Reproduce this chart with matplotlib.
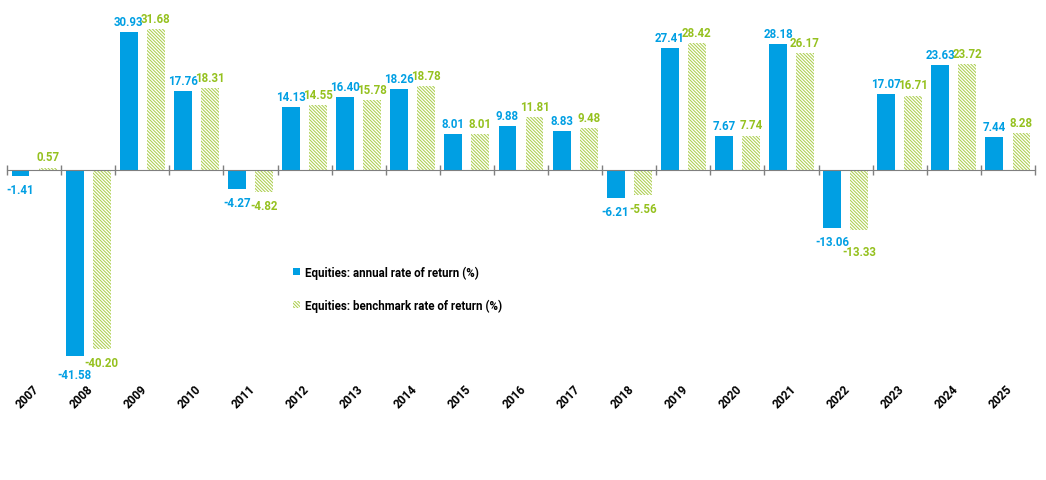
import numpy as np
import matplotlib
matplotlib.use("Agg")
import matplotlib.pyplot as plt
import matplotlib.transforms as mtransforms

# Datos
years = [str(y) for y in range(2007, 2026)]
annual = [-1.41, -41.58, 30.93, 17.76, -4.27, 14.13, 16.40, 18.26, 8.01, 9.88,
          8.83, -6.21, 27.41, 7.67, 28.18, -13.06, 17.07, 23.63, 7.44]
benchmark = [0.57, -40.20, 31.68, 18.31, -4.82, 14.55, 15.78, 18.78, 8.01, 11.81,
             9.48, -5.56, 28.42, 7.74, 26.17, -13.33, 16.71, 23.72, 8.28]
labels = ["Equities: annual rate of return (%)",
          "Equities: benchmark rate of return (%)"]

BLUE = "#009FE3"
GREEN = "#95C11F"
FONT = ["Roboto", "DejaVu Sans"]

plt.rcParams['font.family'] = FONT
plt.rcParams['hatch.linewidth'] = 0.75

W, H = 1046, 481
fig = plt.figure(figsize=(W / 100, H / 100), dpi=100)
# zona del grafico en pixeles: x 7..1035, y 15..375
ax = fig.add_axes([7 / W, (H - 375) / H, 1028 / W, 360 / H])

x = np.arange(len(years))
bw = 0.33
b1 = ax.bar(x - 0.25, annual, bw, color=BLUE, label=labels[0], zorder=2)
b2 = ax.bar(x + 0.25, benchmark, bw, facecolor="white", edgecolor="#ADCF50",
            hatch="\\" * 10, linewidth=0, label=labels[1], zorder=2)

ax.set_xlim(-0.5, len(years) - 0.5)
ax.set_ylim(-45.7, 35.0)

# eje en cero con marcas en los limites de categoria
for s in ["top", "right", "left"]:
    ax.spines[s].set_visible(False)
ax.spines["bottom"].set_position(("data", 0))
ax.spines["bottom"].set_color("#7F7F7F")
ax.spines["bottom"].set_zorder(3)
ax.set_yticks([])
ax.set_xticks(np.arange(len(years) + 1) - 0.5)
ax.set_xticklabels([])
ax.tick_params(axis="x", direction="inout", length=7, color="#7F7F7F", width=1)

# etiquetas de los años abajo
trans = mtransforms.blended_transform_factory(ax.transData, ax.transAxes)
for xi, yr in zip(x, years):
    ax.text(xi + 0.05, -0.035, yr, transform=trans, rotation=45, ha="right",
            va="center", rotation_mode="anchor", fontsize=8.5, fontweight="bold",
            color="black")

# valores (algunos negativos van mas abajo para no pisarse)
def etiquetar(bars, vals, color, extra=None):
    extra = extra or {}
    for i, (rect, v) in enumerate(zip(bars, vals)):
        cx = rect.get_x() + rect.get_width() / 2
        off = 3 if v >= 0 else -5 - extra.get(i, 0)
        ax.annotate(f"{v:.2f}", (cx, v), xytext=(0, off), textcoords="offset points",
                    ha="center", va="bottom" if v >= 0 else "top",
                    fontsize=8.3, fontweight="bold", color=color)

etiquetar(b1, annual, BLUE, extra={years.index("2008"): 4})
etiquetar(b2, benchmark, GREEN, extra={years.index("2022"): 6})

leg = ax.legend(loc="upper left", bbox_to_anchor=(283 / W, 1 - 256 / H),
                bbox_transform=fig.transFigure, frameon=False,
                handlelength=0.6, handleheight=0.6, handletextpad=0.4,
                labelspacing=1.7, prop={"size": 8.3, "weight": "bold", "family": FONT})

fig.savefig("out.png", dpi=100)
